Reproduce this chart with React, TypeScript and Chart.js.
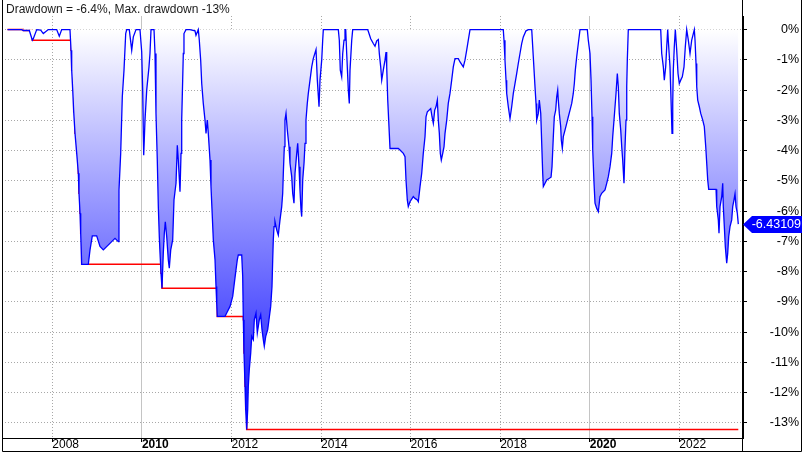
import React, { useEffect, useRef } from "react";
import { Chart, registerables } from "chart.js";

Chart.register(...registerables);

// Drawdown series (decimal year, percent)
const ddDates = [
  2007.0, 2007.317, 2007.353, 2007.487, 2007.554, 2007.576, 2007.652, 2007.741, 2007.799, 2007.911,
  2008.098, 2008.156, 2008.21, 2008.395, 2008.418, 2008.433, 2008.456, 2008.478, 2008.507, 2008.545,
  2008.581, 2008.596, 2008.619, 2008.634, 2008.656, 2008.804, 2008.842, 2008.893, 2008.991, 2009.065,
  2009.139, 2009.4, 2009.474, 2009.489, 2009.527, 2009.563, 2009.601, 2009.639, 2009.661, 2009.719,
  2009.773, 2009.809, 2009.869, 2009.958, 2009.996, 2010.018, 2010.032, 2010.041, 2010.07, 2010.108,
  2010.159, 2010.181, 2010.204, 2010.271, 2010.293, 2010.315, 2010.344, 2010.367, 2010.389, 2010.405,
  2010.427, 2010.449, 2010.478, 2010.501, 2010.523, 2010.554, 2010.59, 2010.612, 2010.644, 2010.688,
  2010.717, 2010.762, 2010.791, 2010.813, 2010.851, 2010.874, 2010.889, 2010.911, 2010.925, 2010.94,
  2010.985, 2011.074, 2011.186, 2011.208, 2011.26, 2011.282, 2011.313, 2011.336, 2011.371, 2011.409,
  2011.432, 2011.461, 2011.483, 2011.521, 2011.543, 2011.566, 2011.595, 2011.633, 2011.655, 2011.671,
  2011.684, 2011.856, 2011.894, 2011.968, 2012.028, 2012.064, 2012.101, 2012.13, 2012.153, 2012.229,
  2012.251, 2012.265, 2012.28, 2012.303, 2012.318, 2012.34, 2012.363, 2012.376, 2012.398, 2012.43,
  2012.452, 2012.488, 2012.51, 2012.548, 2012.577, 2012.622, 2012.653, 2012.682, 2012.711, 2012.733,
  2012.765, 2012.809, 2012.838, 2012.876, 2012.905, 2012.921, 2012.934, 2012.95, 2012.972, 2013.01,
  2013.046, 2013.084, 2013.122, 2013.144, 2013.158, 2013.18, 2013.195, 2013.218, 2013.247, 2013.285,
  2013.307, 2013.345, 2013.367, 2013.396, 2013.419, 2013.457, 2013.479, 2013.508, 2013.53, 2013.553,
  2013.568, 2013.591, 2013.62, 2013.642, 2013.664, 2013.693, 2013.716, 2013.754, 2013.792, 2013.827,
  2013.888, 2013.917, 2013.955, 2013.977, 2014.015, 2014.037, 2014.051, 2014.386, 2014.408, 2014.43,
  2014.461, 2014.484, 2014.513, 2014.535, 2014.551, 2014.573, 2014.609, 2014.631, 2014.647, 2014.685,
  2014.707, 2015.042, 2015.071, 2015.109, 2015.167, 2015.205, 2015.243, 2015.279, 2015.301, 2015.332,
  2015.355, 2015.39, 2015.428, 2015.451, 2015.466, 2015.489, 2015.524, 2015.54, 2015.725, 2015.763,
  2015.837, 2015.875, 2015.897, 2015.926, 2015.948, 2015.986, 2016.06, 2016.098, 2016.149, 2016.172,
  2016.21, 2016.248, 2016.283, 2016.321, 2016.344, 2016.373, 2016.449, 2016.478, 2016.507, 2016.538,
  2016.567, 2016.596, 2016.618, 2016.641, 2016.663, 2016.685, 2016.717, 2016.746, 2016.768, 2016.806,
  2016.841, 2016.879, 2016.917, 2016.953, 2016.991, 2017.065, 2017.103, 2017.176, 2017.214, 2017.252,
  2017.288, 2017.326, 2018.069, 2018.085, 2018.107, 2018.13, 2018.145, 2018.181, 2018.219, 2018.257,
  2018.293, 2018.331, 2018.369, 2018.404, 2018.442, 2018.48, 2018.516, 2018.576, 2018.628, 2018.704,
  2018.739, 2018.777, 2018.8, 2018.815, 2018.851, 2018.873, 2018.905, 2018.927, 2018.949, 2018.963,
  2019.001, 2019.039, 2019.135, 2019.157, 2019.186, 2019.208, 2019.239, 2019.262, 2019.284, 2019.297,
  2019.32, 2019.351, 2019.364, 2019.387, 2019.409, 2019.447, 2019.485, 2019.521, 2019.559, 2019.597,
  2019.632, 2019.655, 2019.677, 2019.708, 2019.744, 2019.782, 2019.945, 2019.967, 2020.005, 2020.028,
  2020.05, 2020.066, 2020.095, 2020.117, 2020.155, 2020.191, 2020.228, 2020.266, 2020.34, 2020.378,
  2020.414, 2020.452, 2020.49, 2020.512, 2020.541, 2020.586, 2020.615, 2020.637, 2020.659, 2020.691,
  2020.713, 2020.735, 2020.764, 2020.787, 2020.809, 2020.825, 2020.838, 2020.86, 2021.584, 2021.606,
  2021.642, 2021.664, 2021.695, 2021.718, 2021.74, 2021.753, 2021.791, 2021.814, 2021.836, 2021.852,
  2021.865, 2021.887, 2021.91, 2021.941, 2021.97, 2021.999, 2022.03, 2022.066, 2022.104, 2022.133,
  2022.164, 2022.2, 2022.238, 2022.276, 2022.312, 2022.334, 2022.35, 2022.372, 2022.388, 2022.41,
  2022.446, 2022.477, 2022.522, 2022.557, 2022.589, 2022.611, 2022.633, 2022.655, 2022.819, 2022.834,
  2022.87, 2022.885, 2022.908, 2022.946, 2022.968, 2022.981, 2023.004, 2023.026, 2023.057, 2023.08,
  2023.102, 2023.131, 2023.169, 2023.191, 2023.22, 2023.243, 2023.265, 2023.294, 2023.316,
];

const ddValues = [
  0, 0, -0.03, -0.03, -0.35, -0.3, 0, -0.02, -0.13, 0,
  0, -0.22, 0, 0, -0.68, -1.34, -2.0, -2.72, -3.43, -4.09,
  -4.75, -5.41, -6.07, -6.73, -7.76, -7.76, -7.28, -6.82, -6.82, -7.17,
  -7.28, -6.9, -7.01, -5.3, -4.09, -2.22, -1.34, -0.13, 0, 0,
  -0.68, -0.24, 0, 0, -0.74, -2.0, -3.43, -4.15, -2.99, -2.0,
  -1.23, -0.79, 0, 0, -0.79, -2.77, -4.31, -5.85, -6.84, -7.39,
  -8.05, -8.55, -7.39, -6.73, -6.35, -6.84, -7.61, -7.89, -7.28, -6.95,
  -5.63, -5.08, -3.82, -4.31, -5.36, -4.09, -2.99, -1.67, -0.79, -0.13,
  0, 0, -0.04, -0.19, 0, -0.35, -1.01, -1.78, -2.44, -2.99,
  -3.43, -2.99, -3.43, -4.31, -5.19, -5.96, -6.95, -7.61, -8.49, -9.04,
  -9.48, -9.48, -9.37, -9.15, -8.82, -8.38, -7.94, -7.61, -7.45, -7.45,
  -8.16, -9.59, -10.69, -11.79, -12.56, -13.22, -12.56, -11.79, -11.24, -10.69,
  -10.14, -10.25, -9.59, -9.37, -10.03, -9.59, -9.43, -9.92, -10.25, -10.47,
  -10.14, -9.92, -9.59, -9.15, -8.49, -7.61, -6.95, -6.51, -6.35, -6.62,
  -6.79, -6.29, -5.85, -5.41, -4.75, -3.87, -2.99, -2.77, -3.32, -3.87,
  -4.42, -4.86, -5.41, -5.74, -4.75, -4.09, -3.76, -4.53, -5.3, -5.96,
  -6.18, -4.97, -4.42, -3.76, -2.99, -2.44, -2.11, -1.67, -1.23, -0.96,
  -0.66, -1.67, -2.55, -1.67, -1.01, -0.35, 0, 0, -0.35, -1.34,
  -1.56, -0.79, -0.35, 0, 0, -0.79, -2.0, -2.44, -1.34, -0.35,
  0, 0, -0.13, -0.3, -0.46, -0.55, -0.37, -0.33, -0.79, -1.23,
  -1.67, -1.34, -1.01, -0.74, -1.23, -2.33, -3.43, -3.93, -3.93, -3.98,
  -4.09, -4.2, -4.97, -5.63, -5.85, -5.69, -5.52, -5.58, -5.63, -5.69,
  -5.19, -4.75, -4.09, -3.54, -2.88, -2.72, -2.61, -2.88, -3.1, -2.66,
  -2.55, -2.33, -2.99, -3.43, -4.09, -4.31, -4.09, -3.87, -3.43, -2.99,
  -2.44, -2.11, -1.67, -1.23, -0.96, -0.96, -1.07, -1.23, -1.01, -0.68,
  -0.35, 0, 0, -0.35, -1.01, -1.67, -2.11, -2.55, -2.94, -2.55,
  -2.11, -1.78, -1.45, -1.12, -0.79, -0.46, -0.24, -0.04, 0, 0,
  -0.9, -1.89, -2.44, -2.99, -2.77, -2.33, -2.77, -3.76, -4.75, -5.19,
  -5.08, -4.97, -4.88, -4.53, -3.54, -2.88, -2.66, -2.22, -2.0, -2.33,
  -2.77, -3.21, -3.65, -3.93, -3.54, -3.32, -3.1, -2.88, -2.66, -2.44,
  -2.11, -1.78, -1.34, -0.9, -0.46, 0, 0, -0.35, -0.79, -1.67,
  -2.88, -3.98, -5.08, -5.74, -5.91, -6.02, -5.52, -5.41, -5.3, -5.08,
  -4.86, -4.53, -4.09, -3.54, -2.99, -2.11, -1.45, -1.89, -2.77, -3.32,
  -3.87, -4.31, -5.08, -3.87, -2.99, -1.89, -1.01, 0, 0, -0.79,
  -1.23, -1.67, -1.23, -0.57, 0, -0.35, -1.23, -2.33, -3.43, -2.44,
  -1.34, -0.57, 0, -0.68, -1.45, -1.78, -1.67, -1.56, -1.23, -0.57,
  0, -0.35, -0.79, -0.35, -0.13, 0, -0.35, -1.12, -1.89, -2.33,
  -2.55, -2.77, -2.99, -3.21, -3.87, -4.42, -4.97, -5.28, -5.28, -5.85,
  -6.29, -6.73, -5.85, -5.52, -5.08, -5.85, -6.51, -7.17, -7.72, -7.39,
  -6.84, -6.51, -6.29, -5.85, -5.63, -5.43, -5.85, -6.07, -6.43109,
];

// Maximum drawdown (running low) series
const mddDates = [
  2007.0, 2007.353, 2007.554, 2008.418, 2008.433, 2008.456, 2008.478, 2008.507, 2008.545, 2008.581,
  2008.596, 2008.619, 2008.634, 2008.656, 2010.405, 2010.427, 2010.449, 2011.671, 2011.684, 2012.265,
  2012.28, 2012.303, 2012.318, 2012.34, 2023.316,
];
const mddValues = [
  0, -0.03, -0.35, -0.68, -1.34, -2.0, -2.72, -3.43, -4.09, -4.75,
  -5.41, -6.07, -6.73, -7.76, -7.76, -8.05, -8.55, -9.04, -9.48, -9.59,
  -10.69, -11.79, -12.56, -13.22, -13.22,
];

const yearTicks = [2008, 2010, 2012, 2014, 2016, 2018, 2020, 2022];
const majorYears = [2010, 2020];
const pctTicks = [0, -1, -2, -3, -4, -5, -6, -7, -8, -9, -10, -11, -12, -13];

const FAMILY = '"Liberation Sans", Arial, sans-serif';

export default function App() {
  const ref = useRef<HTMLCanvasElement | null>(null);

  useEffect(() => {
    const canvas = ref.current;
    if (!canvas) return;
    const last = ddValues[ddValues.length - 1];
    const maxDD = Math.min(...mddValues);

    const overlay = {
      id: "overlay",
      afterDraw(chart: any) {
        const { ctx, chartArea, scales } = chart;
        const W = chart.width;
        const H = chart.height;
        ctx.save();
        ctx.strokeStyle = "#000";
        ctx.lineWidth = 1;
        ctx.setLineDash([]);
        ctx.beginPath();
        const lx = Math.round(chartArea.left) + 0.5;
        const rx = Math.round(chartArea.right) - 0.5;
        const by = H - 4.5;
        ctx.moveTo(lx, 0);
        ctx.lineTo(lx, by);
        ctx.lineTo(W - 3.5, by);
        ctx.lineTo(W - 3.5, 0);
        ctx.moveTo(rx, 0);
        ctx.lineTo(rx, by);
        ctx.stroke();

        // title
        ctx.font = `12px ${FAMILY}`;
        ctx.fillStyle = "#1a1a1a";
        ctx.textAlign = "left";
        ctx.textBaseline = "alphabetic";
        ctx.fillText(
          `Drawdown = ${last.toFixed(1)}%, Max. drawdown ${Math.round(maxDD)}%`,
          6,
          13
        );

        // last value marker
        const py = Math.round(scales.y.getPixelForValue(last)) + 0.5;
        const tipX = rx + 0.5;
        const boxL = tipX + 9;
        const boxR = W - 3;
        const hh = 8.5;
        ctx.fillStyle = "#0000ff";
        ctx.beginPath();
        ctx.moveTo(tipX, py);
        ctx.lineTo(boxL, py - hh);
        ctx.lineTo(boxR, py - hh);
        ctx.lineTo(boxR, py + hh);
        ctx.lineTo(boxL, py + hh);
        ctx.closePath();
        ctx.fill();
        ctx.fillStyle = "#ffffff";
        ctx.font = `12.5px ${FAMILY}`;
        ctx.textAlign = "right";
        ctx.textBaseline = "middle";
        ctx.fillText(String(last), boxR - 1, py + 0.5);
        ctx.restore();
      },
    };

    const chart = new Chart(canvas, {
      type: "line",
      data: {
        datasets: [
          {
            label: "Drawdown",
            data: ddDates.map((d, i) => ({ x: d, y: ddValues[i] })),
            borderColor: "#0000ff",
            borderWidth: 1.3,
            pointRadius: 0,
            tension: 0,
            fill: { value: 0 },
            backgroundColor: (c: any) => {
              const ch = c.chart;
              const { ctx, chartArea, scales } = ch;
              if (!chartArea || !scales.y) return "rgba(0,0,255,0.3)";
              const y0 = scales.y.getPixelForValue(0);
              const y1 = scales.y.getPixelForValue(-14);
              const g = ctx.createLinearGradient(0, y0, 0, y1);
              g.addColorStop(0, "#ffffff");
              g.addColorStop(1, "#0000ff");
              return g;
            },
          },
          {
            label: "Max drawdown",
            data: mddDates.map((d, i) => ({ x: d, y: mddValues[i] })),
            borderColor: "#ff0000",
            borderWidth: 1.5,
            pointRadius: 0,
            stepped: true,
            fill: false,
          },
        ],
      },
      options: {
        responsive: false,
        animation: false,
        devicePixelRatio: 1,
        events: [],
        layout: { padding: { left: 2, top: 16, right: 6, bottom: 0 } },
        plugins: {
          legend: { display: false },
          tooltip: { enabled: false },
          title: { display: false },
        },
        scales: {
          x: {
            type: "linear",
            position: "bottom",
            min: 2006.877,
            max: 2023.421,
            afterBuildTicks: (s: any) => {
              s.ticks = yearTicks.map((v) => ({ value: v }));
            },
            afterFit: (s: any) => {
              s.height = 18;
            },
            grid: {
              color: (c: any) =>
                c.tick && majorYears.includes(c.tick.value) ? "#c4c4c4" : "#a8a8a8",
              lineWidth: 1,
              drawTicks: true,
              tickLength: 4,
              tickColor: "#000",
              tickWidth: 1,
            },
            border: {
              display: true,
              color: "#000",
              width: 1,
              dash: (c: any) =>
                c.tick && majorYears.includes(c.tick.value) ? [] : [1, 2],
            },
            ticks: {
              align: "start",
              padding: -5,
              color: "#000",
              autoSkip: false,
              maxRotation: 0,
              font: (c: any) => ({
                family: FAMILY,
                size: 12,
                weight: c.tick && majorYears.includes(c.tick.value) ? "bold" : "normal",
              }),
              callback: (v: any) => String(v),
            },
          },
          y: {
            type: "linear",
            position: "right",
            min: -13.5,
            max: 0.45,
            afterBuildTicks: (s: any) => {
              s.ticks = pctTicks.map((v) => ({ value: v }));
            },
            afterFit: (s: any) => {
              s.width = 56;
            },
            grid: {
              color: "#a8a8a8",
              lineWidth: 1,
              tickLength: 4,
              tickColor: "#000",
              tickWidth: 1,
            },
            border: { display: true, color: "#000", width: 1, dash: [1, 2] },
            ticks: {
              crossAlign: "far",
              color: "#000",
              autoSkip: false,
              font: { family: FAMILY, size: 12.5 },
              callback: (v: any) => `${v}%`,
            },
          },
        },
      },
      plugins: [overlay],
    } as any);

    return () => chart.destroy();
  }, []);

  return (
    <div style={{ position: "absolute", left: 0, top: 0, width: 805, height: 456, background: "#fff" }}>
      <canvas ref={ref} width={805} height={456} style={{ display: "block" }} />
    </div>
  );
}
